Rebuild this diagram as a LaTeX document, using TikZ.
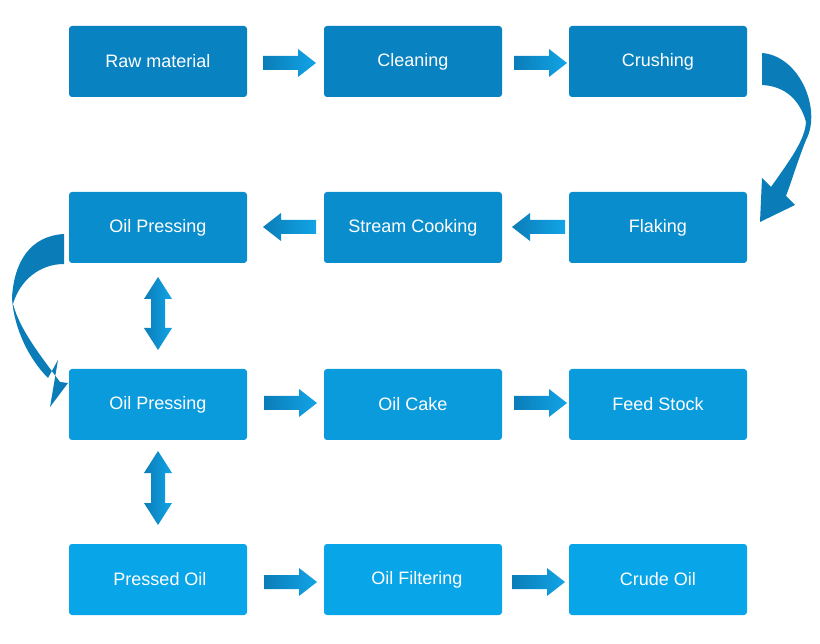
\documentclass[tikz,border=0pt]{standalone}
\usepackage{fontspec}
\setmainfont{Liberation Sans}
\definecolor{cA}{HTML}{0882C0}
\definecolor{cB}{HTML}{0A8DCC}
\definecolor{cC}{HTML}{0A9BDD}
\definecolor{cD}{HTML}{08A5E8}
\definecolor{adk}{HTML}{0A7DB8}
\definecolor{alt}{HTML}{12A4E6}
\begin{document}
\begin{tikzpicture}[x=1pt,y=-1pt,
 box/.style={rounded corners=3pt,minimum width=178pt,minimum height=71pt,text=white,font=\fontsize{18}{20}\selectfont,inner sep=0pt},
 sar/.style={left color=adk,right color=alt,draw=none},
 car/.style={fill=adk,draw=none}]
\useasboundingbox (0,0) rectangle (820,644);
\node[box,fill=cA] (a1) at (158,61.5) {Raw material};
\node[box,fill=cA] (a2) at (413,61.5) {Cleaning};
\node[box,fill=cA] (a3) at (658,61.5) {Crushing};
\node[box,fill=cB] (b1) at (158,227.5) {Oil Pressing};
\node[box,fill=cB] (b2) at (413,227.5) {Stream Cooking};
\node[box,fill=cB] (b3) at (658,227.5) {Flaking};
\node[box,fill=cC] (c1) at (158,404.5) {Oil Pressing};
\node[box,fill=cC] (c2) at (413,404.5) {Oil Cake};
\node[box,fill=cC] (c3) at (658,404.5) {Feed Stock};
\node[box,fill=cD] (d1) at (158,579.5) {\hspace*{4pt}Pressed Oil};
\node[box,fill=cD] (d2) at (413,579.5) {\hspace*{8pt}Oil Filtering};
\node[box,fill=cD] (d3) at (658,579.5) {Crude Oil};
% right arrows: x0 x1 y
\foreach \xa/\xb/\yy in {263/316/63,514/567/63,264/317/403,514/567/403,264/317/582,512/565/582}
  \path[sar] (\xa,\yy-7) -- (\xb-18,\yy-7) -- (\xb-18,\yy-14) -- (\xb,\yy) -- (\xb-18,\yy+14) -- (\xb-18,\yy+7) -- (\xa,\yy+7) -- cycle;
% left arrows
\foreach \xa/\xb/\yy in {263/316/227,512/565/227}
  \path[sar] (\xb,\yy-7) -- (\xa+18,\yy-7) -- (\xa+18,\yy-14) -- (\xa,\yy) -- (\xa+18,\yy+14) -- (\xa+18,\yy+7) -- (\xb,\yy+7) -- cycle;
% double arrows
\foreach \ya/\yb in {277/350,451/525}
  \path[sar] (158,\ya) -- (172,\ya+22) -- (165,\ya+22) -- (165,\yb-22) -- (172,\yb-22) -- (158,\yb) -- (144,\yb-22) -- (151,\yb-22) -- (151,\ya+22) -- (144,\ya+22) -- cycle;
% curved right
\path[car] (762,53) .. controls (800,56) and (822,110) .. (806,140) .. controls (798,160) and (792,180) .. (786,196)
  -- (795,205) -- (760,222) -- (762,178) -- (771,187)
  .. controls (790,160) and (805,140) .. (806,122) .. controls (800,100) and (785,86) .. (762,85) -- cycle;
% curved left
\path[car] (64,234) .. controls (30,236) and (14,262) .. (12,298) .. controls (14,330) and (30,360) .. (48,378)
  -- (58,360) -- (50,407) -- (68,383) -- (60,382)
  .. controls (40,355) and (20,330) .. (13,304) .. controls (20,280) and (40,264) .. (64,264) -- cycle;
\end{tikzpicture}
\end{document}
